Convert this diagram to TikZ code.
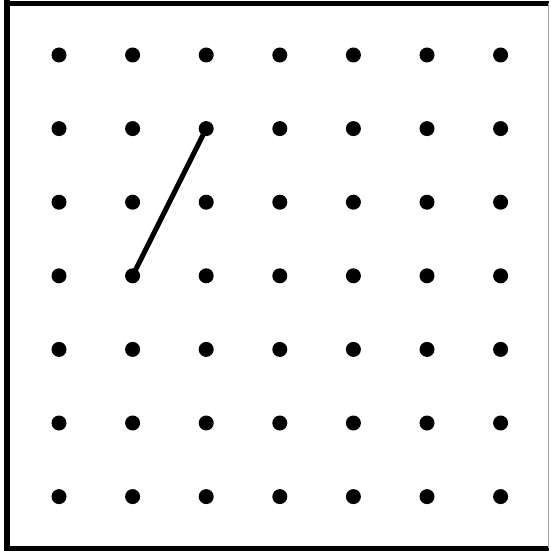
\documentclass[tikz,border=0pt]{standalone}
\begin{document}
\begin{tikzpicture}[x=1pt,y=-1pt,
  dotnode/.style={circle,fill=black,inner sep=0pt,minimum size=15pt},
  seg/.style={line width=5pt,line cap=round}]
\useasboundingbox (0,0) rectangle (550,551);
\fill[white] (0,0) rectangle (550,551);
% frame
\draw[line width=6pt] (7,0) -- (7,551);
\draw[line width=5pt] (4,3.5) -- (549,3.5);
\draw[line width=5pt] (4,548.5) -- (549,548.5);
\draw[line width=1pt,gray!70] (548.5,3) -- (548.5,548);
% dots
\foreach \i in {0,...,6}{
  \foreach \j in {0,...,6}{
    \node[dotnode] (d-\i-\j) at ({59+73.6*\i},{55+73.6*\j}) {};
  }
}
\draw[seg] (d-2-1.center) -- (d-1-3.center);
\end{tikzpicture}
\end{document}
